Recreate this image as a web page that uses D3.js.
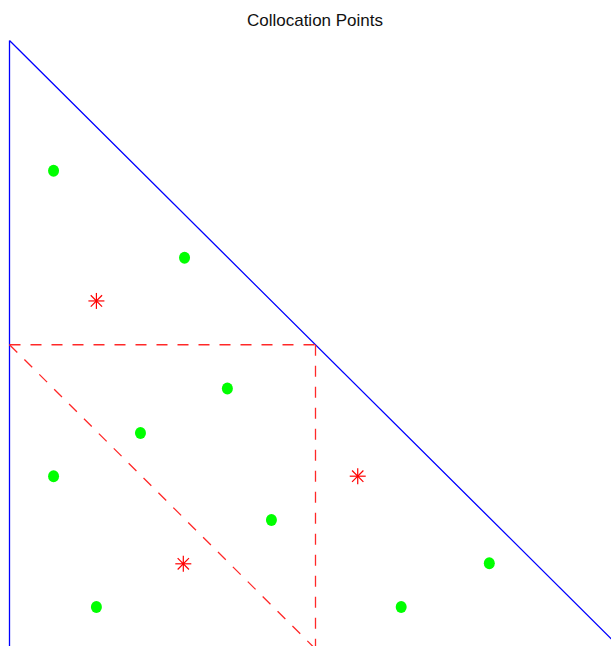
<!DOCTYPE html>
<html>
<head>
<meta charset="utf-8">
<script src="https://cdn.jsdelivr.net/npm/d3@7"></script>
<style>
  html, body { margin: 0; padding: 0; background: #fff; }
  svg { display: block; }
</style>
</head>
<body>
<svg id="chart" width="611" height="646"></svg>
<script>
// Reference triangle (x, y) and its subdivision lines
const triangleOutline = [[0, 1], [0, 0], [1, 0], [0, 1]];
const subdivisionLines = [
  [[0, 0.5], [0.5, 0.5]],
  [[0.5, 0.5], [0.5, 0]],
  [[0, 0.5], [0.5, 0]]
];

// Collocation points (green dots)
const pointX = [0.072, 0.286, 0.356, 0.214, 0.072, 0.428, 0.142, 0.640, 0.784];
const pointY = [0.786, 0.643, 0.428, 0.355, 0.284, 0.212, 0.069, 0.069, 0.141];

// Marked points (red asterisks)
const starX = [0.142, 0.569, 0.284];
const starY = [0.572, 0.284, 0.140];

const title = "Collocation Points";

const svg = d3.select("#chart");
const x = d3.scaleLinear().domain([0, 1]).range([9.5, 621.5]);
const y = d3.scaleLinear().domain([0, 1]).range([649, 40.5]);

const line = d3.line().x(d => x(d[0])).y(d => y(d[1]));

svg.append("text")
  .attr("x", 315)
  .attr("y", 26)
  .attr("text-anchor", "middle")
  .attr("font-family", "Liberation Sans, Arial, sans-serif")
  .attr("font-size", 17)
  .attr("fill", "#111")
  .text(title);

svg.append("path")
  .attr("d", line(triangleOutline))
  .attr("fill", "none")
  .attr("stroke", "rgb(0,0,255)")
  .attr("stroke-width", 1.3);

svg.selectAll(".sub")
  .data(subdivisionLines)
  .join("path")
  .attr("class", "sub")
  .attr("d", d => line(d))
  .attr("fill", "none")
  .attr("stroke", "rgb(255,40,40)")
  .attr("stroke-width", 1.3)
  .attr("stroke-dasharray", "11,10");

svg.selectAll(".pt")
  .data(pointX.map((v, i) => [v, pointY[i]]))
  .join("ellipse")
  .attr("class", "pt")
  .attr("cx", d => x(d[0]))
  .attr("cy", d => y(d[1]))
  .attr("rx", 5.5)
  .attr("ry", 6)
  .attr("fill", "#00ff00");

const star = svg.selectAll(".star")
  .data(starX.map((v, i) => [v, starY[i]]))
  .join("g")
  .attr("class", "star")
  .attr("transform", d => `translate(${x(d[0])},${y(d[1])})`);

const r = 8;
[0, 45, 90, 135].forEach(a => {
  const rad = a * Math.PI / 180;
  star.append("line")
    .attr("x1", -r * Math.cos(rad)).attr("y1", -r * Math.sin(rad))
    .attr("x2", r * Math.cos(rad)).attr("y2", r * Math.sin(rad))
    .attr("stroke", "rgb(255,0,0)")
    .attr("stroke-width", 1.2);
});
</script>
</body>
</html>
